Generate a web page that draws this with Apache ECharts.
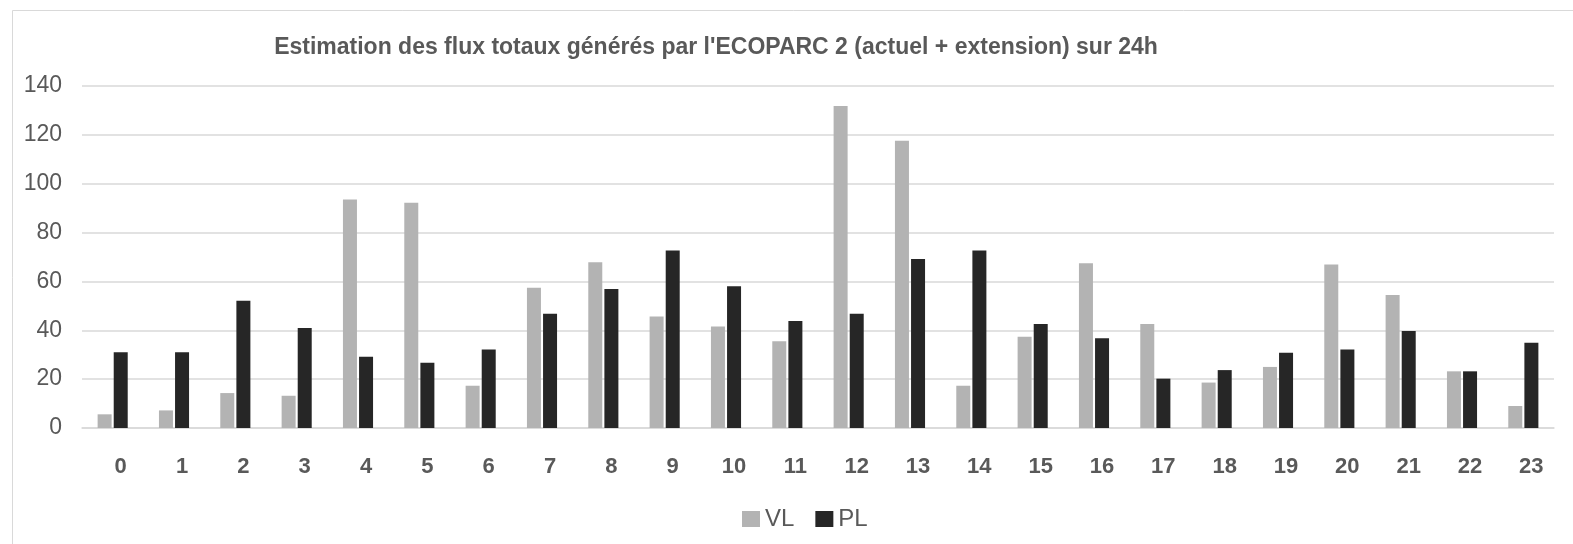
<!DOCTYPE html>
<html>
<head>
<meta charset="utf-8">
<script src="https://cdn.jsdelivr.net/npm/echarts@6/dist/echarts.min.js"></script>
<style>
  html, body { margin: 0; padding: 0; background: #fff; }
  #chart { width: 1573px; height: 544px; }
</style>
</head>
<body>
<div id="chart"></div>
<script>
// heures de la journée
const hours = ['0','1','2','3','4','5','6','7','8','9','10','11','12','13','14','15','16','17','18','19','20','21','22','23'];
// véhicules légers
const vl = [5.6, 7.2, 14.3, 13.2, 93.5, 92.2, 17.3, 57.4, 67.9, 45.6, 41.5, 35.5, 131.8, 117.6, 17.3, 37.4, 67.4, 42.6, 18.6, 25.0, 66.9, 54.4, 23.2, 9.0];
// poids lourds
const pl = [31, 31, 52.1, 40.9, 29.2, 26.7, 32.1, 46.8, 56.9, 72.7, 58.0, 43.8, 46.8, 69.2, 72.7, 42.6, 36.7, 20.2, 23.7, 30.8, 32.1, 39.7, 23.2, 34.9];
const titleText = "Estimation des flux totaux générés par l'ECOPARC 2 (actuel + extension) sur 24h";

const font = "'Liberation Sans', sans-serif";
const grey = '#595959';

const chart = echarts.init(document.getElementById('chart'));
chart.setOption({
  animation: false,
  backgroundColor: '#fff',
  textStyle: { fontFamily: font },
  graphic: [{
    type: 'rect',
    shape: { x: 12.5, y: 10.5, width: 1600, height: 600 },
    style: { fill: 'none', stroke: '#d9d9d9', lineWidth: 1 },
    silent: true
  }],
  title: {
    text: titleText,
    left: 711,
    top: 31,
    textAlign: 'center',
    textStyle: { fontFamily: font, fontWeight: 'bold', fontSize: 23, color: grey }
  },
  legend: {
    data: ['VL', 'PL'],
    left: 737,
    top: 502,
    itemWidth: 18,
    itemHeight: 16,
    itemGap: 21,
    icon: 'rect',
    textStyle: { fontFamily: font, fontSize: 24, color: grey }
  },
  grid: { left: 82, right: 19, top: 86, bottom: 116 },
  xAxis: {
    type: 'category',
    data: hours,
    axisLine: { lineStyle: { color: '#d9d9d9', width: 1.5 } },
    axisTick: { show: false },
    axisLabel: {
      fontFamily: font, fontWeight: 'bold', fontSize: 22, color: grey,
      margin: 28, padding: [0, 0, 0, 16]
    }
  },
  yAxis: {
    type: 'value',
    min: 0,
    max: 140,
    interval: 20,
    axisLine: { show: false },
    axisTick: { show: false },
    splitLine: { lineStyle: { color: '#d9d9d9', width: 1.5 } },
    axisLabel: { fontFamily: font, fontSize: 23, color: grey, margin: 20 }
  },
  series: [
    { name: 'VL', type: 'bar', data: vl, barWidth: 14, barGap: '15%', itemStyle: { color: '#b3b3b3' } },
    { name: 'PL', type: 'bar', data: pl, barWidth: 14, itemStyle: { color: '#262626' } }
  ]
});
</script>
</body>
</html>
